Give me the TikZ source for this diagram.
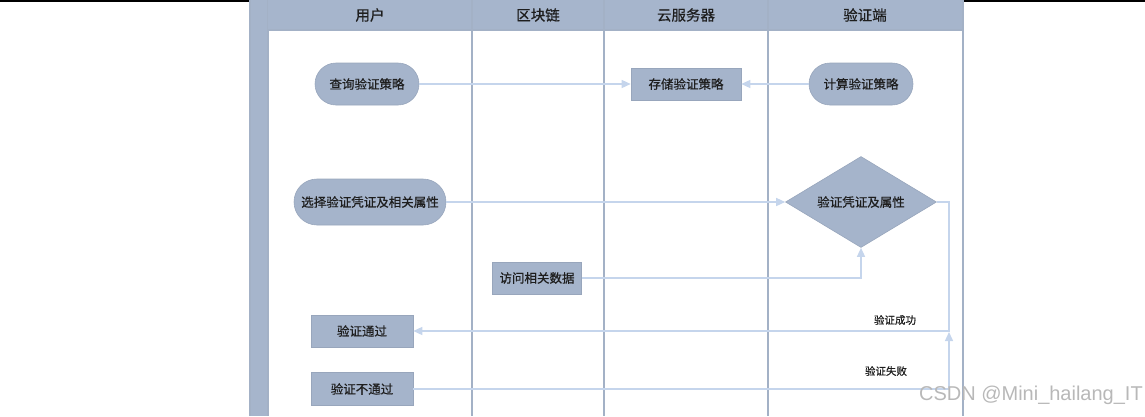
\documentclass[tikz,border=0pt]{standalone}
\usepackage{fontspec}
\newfontfamily\cjk[FakeBold=0.6]{Noto Sans CJK SC}
\newfontfamily\wmfont{Liberation Sans}
\usetikzlibrary{shapes.geometric,arrows.meta}
\definecolor{lanefill}{HTML}{A6B5CC}
\definecolor{laneline}{HTML}{A3B1C6}
\definecolor{nodefill}{HTML}{A5B4CB}
\definecolor{nodeedge}{HTML}{98A6BC}
\definecolor{conncol}{HTML}{C5D5EC}
\definecolor{txt}{HTML}{1E1E1E}
\begin{document}
\begin{tikzpicture}[x=1pt,y=-1pt,
  every node/.style={font=\cjk, text=txt},
  stadium/.style={draw=nodeedge, line width=0.6pt, fill=nodefill, rounded corners=21pt,
    minimum width=104pt, minimum height=42pt, inner sep=0pt, font=\cjk\fontsize{12.5}{14}\selectfont},
  procbox/.style={draw=nodeedge, line width=0.6pt, fill=nodefill,
    minimum height=32pt, inner sep=0pt, font=\cjk\fontsize{12.5}{14}\selectfont},
  decision/.style={diamond, shape aspect=1.66, draw=nodeedge, line width=0.6pt, fill=nodefill,
    minimum width=151pt, minimum height=91pt, inner sep=0pt, font=\cjk\fontsize{12.5}{14}\selectfont},
  header/.style={font=\cjk\fontsize{14.5}{16}\selectfont},
  lbl/.style={font=\cjk\fontsize{10.5}{12}\selectfont},
  conn/.style={draw=conncol, line width=1.4pt},
  arr/.style={conn, -{Triangle[length=9pt,width=8pt,fill=conncol]}},
  laneln/.style={draw=laneline, line width=1.5pt}
]
\useasboundingbox (0,0) rectangle (1145,416);
% top black line
\draw[black, line width=1.6pt] (0,0.8) -- (1145,0.8);
% lane frame
\fill[lanefill] (250,0) rectangle (268,416);
\draw[laneln] (250,0) -- (250,416);
\draw[laneln] (268,0) -- (268,416);
\fill[lanefill] (268,0) rectangle (963,30);
\draw[laneln] (268,30) -- (963,30);
\draw[laneln] (472,0) -- (472,416);
\draw[laneln] (604,0) -- (604,416);
\draw[laneln] (768,0) -- (768,416);
\draw[laneln] (963,0) -- (963,416);
% headers
\node[header] (h1) at (370,15) {用户};
\node[header] (h2) at (538,15) {区块链};
\node[header] (h3) at (686,15) {云服务器};
\node[header] (h4) at (865,15) {验证端};
% nodes
\node[stadium] (q) at (367,84) {查询验证策略};
\node[procbox, minimum width=110pt] (s) at (686,84) {存储验证策略};
\node[stadium] (c) at (861,84) {计算验证策略};
\node[stadium, minimum width=152pt, minimum height=46pt, rounded corners=23pt] (sel) at (370,202) {选择验证凭证及相关属性};
\node[decision] (d) at (861,202) {验证凭证及属性};
\node[procbox, minimum width=89pt] (acc) at (537,278) {访问相关数据};
\node[procbox, minimum width=102pt] (pass) at (362,331) {验证通过};
\node[procbox, minimum width=102pt, minimum height=33pt] (fail) at (362,389) {验证不通过};
\coordinate (jx) at (949,0);
\coordinate (jn) at (949,332);
% connectors
\draw[arr] (q.east) -- (s.west);
\draw[arr] (c.west) -- (s.east);
\draw[arr] (sel.east) -- (d.west);
\draw[arr] (acc.east) -| (d.south);
\draw[arr] (d.east) -- (d.east -| jx) |- (pass.east);
\draw[arr] (fail.east) -| (jn);
% labels
\node[lbl] (l1) at (895,320) {验证成功};
\node[lbl] (l2) at (886,371) {验证失败};
% watermark
\node[font=\wmfont\fontsize{20}{22}\selectfont, text=black!28, anchor=east, inner sep=0pt] (wm) at (1143,395) {CSDN @Mini\_hailang\_IT};
\end{tikzpicture}
\end{document}
